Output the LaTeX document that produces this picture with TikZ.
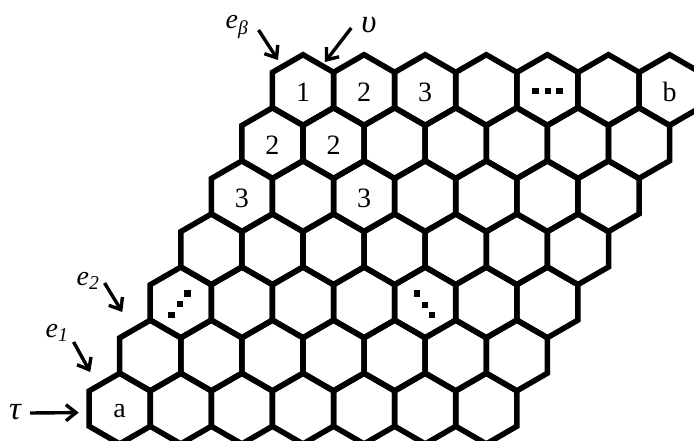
\documentclass[tikz,border=0pt]{standalone}
\usepackage{fontspec}
\setmainfont{Liberation Serif}
\usetikzlibrary{arrows.meta,shapes.geometric,calc}

\begin{document}
\begin{tikzpicture}[x=1pt,y=-1pt,
  hexcell/.style={regular polygon,regular polygon sides=6,shape border rotate=30,minimum size=70.6pt,inner sep=0pt,outer sep=0pt,draw=black,line width=5.5pt},
  num/.style={font=\fontsize{28}{30}\selectfont,yshift=-2pt},
  tag/.style={font=\fontsize{28}{30}\selectfont\itshape,inner sep=1pt},
  greek/.style={tag,font=\fontsize{33}{34}\selectfont\itshape},
  arr/.style={line width=3.4pt,-{Straight Barb[length=10pt,width=16pt]}}
]
\useasboundingbox (0,0) rectangle (694,441);
% lattice: row r, column c
\foreach \r in {0,...,6}
  \foreach \c in {0,...,6}
    \node[hexcell] (h-\r-\c) at ({303-30.55*\r+61.1*\c},{90+53.1*\r}) {};

% numbers in the cells
\node[num] at (h-0-0) {1};
\node[num] at (h-0-1) {2};
\node[num] at (h-0-2) {3};
\node[num] at (h-0-6) {b};
\node[num] at (h-1-0) {2};
\node[num] at (h-1-1) {2};
\node[num] at (h-2-0) {3};
\node[num] at (h-2-2) {3};
\node[num] at (h-6-0) {a};

% dots
\foreach \dx/\dy in {-12/1,0.5/1,12/1}
  \fill ([shift={(\dx,\dy)}]h-0-4) ++(-3.4,-3.4) rectangle ++(6.8,6.8);
\foreach \dx/\dy in {-9.5/12.3,-1.1/1.6,6.5/-9.1}
  \fill ([shift={(\dx,\dy)}]h-4-0) ++(-3.2,-3.2) rectangle ++(6.4,6.4);
\foreach \dx/\dy in {-8.5/-9,0/2.6,6.5/12.6}
  \fill ([shift={(\dx,\dy)}]h-4-4) ++(-3.2,-3.2) rectangle ++(6.4,6.4);

% edge names
\node[greek] (tau) at (15,412) {τ};
\node[tag] (e1) at (57,333) {e\textsubscript{1}};
\node[tag] (e2) at (88,281) {e\textsubscript{2}};
\node[tag] (eb) at (237,27) {e\textsubscript{β}};
\node[greek] (ups) at (369,25) {υ};

\coordinate (tau-tip) at ([shift={(-41,4)}]h-6-0);
\coordinate (e1-tip) at ([shift={(-29.5,-36.6)}]h-6-0);
\coordinate (e2-tip) at ([shift={(-28,-43.5)}]h-5-0);
\coordinate (eb-tip) at ([shift={(-25,-30)}]h-0-0);
\coordinate (ups-tip) at ([shift={(22,-28)}]h-0-0);

\draw[arr] ([shift={(8,1)}]tau.east) -- (tau-tip);
\draw[arr] ([shift={(4,9)}]e1.east) -- (e1-tip);
\draw[arr] ([shift={(4,2)}]e2.east) -- (e2-tip);
\draw[arr] ([shift={(9,3)}]eb.east) -- (eb-tip);
\draw[arr] ([shift={(-9,3)}]ups.west) -- (ups-tip);
\end{tikzpicture}
\end{document}
